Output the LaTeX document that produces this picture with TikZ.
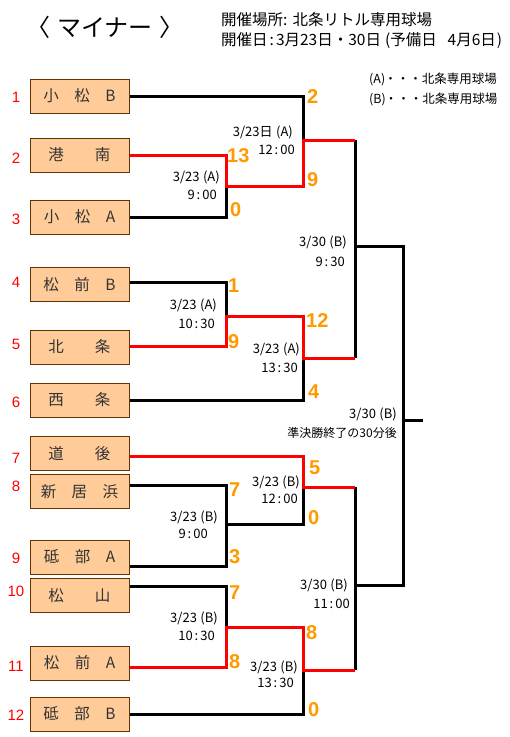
\documentclass[tikz,border=0pt]{standalone}
\usepackage{fontspec}
\setmainfont{Noto Sans CJK JP}
\newfontfamily\arialfont{Liberation Sans}
\definecolor{boxfill}{HTML}{FFCC99}
\definecolor{boxline}{HTML}{663300}
\definecolor{teamtext}{HTML}{333333}
\definecolor{scorecol}{HTML}{FF9900}
\newcommand{\gamedate}[2]{#1\hspace{3.5pt}(#2)}
\newcommand{\gametime}[2]{#1\hspace{2pt}:\hspace{2pt}#2}
\begin{document}
\begin{tikzpicture}[x=1pt,y=-1pt,
	team/.style={draw=boxline,fill=boxfill,line width=1pt,minimum width=99pt,minimum height=34pt,inner sep=0pt,text=teamtext,font=\fontsize{15.5}{15.5}\selectfont},
	seed/.style={text=red,inner sep=0pt,font=\arialfont\fontsize{15}{15}\selectfont},
	score/.style={anchor=west,inner sep=0pt,text=scorecol,font=\arialfont\bfseries\fontsize{20}{20}\selectfont},
	info/.style={anchor=east,inner sep=0pt,font=\fontsize{13}{13}\selectfont},
	lose/.style={line width=3pt},
	win/.style={line width=3pt,red}]
	\useasboundingbox (0,0) rectangle (510,737);
	% header
	\node (title) at (105,27) {\fontsize{24}{24}\selectfont 〈\hspace{7pt}マイナー\hspace{7pt}〉};
	\node[anchor=west,inner sep=0pt,font=\fontsize{15.5}{15.5}\selectfont] (place) at (221,20) {開催場所:\hspace{5pt}北条リトル専用球場};
	\node[anchor=west,inner sep=0pt,font=\fontsize{15.5}{15.5}\selectfont] (date) at (221,41) {開催日\hspace{2pt}:\hspace{2pt}3月23日\hspace{0pt}・\hspace{0pt}30日\hspace{4pt}(予備日\hspace{11pt}4月6日\hspace{1pt})};
	\node[anchor=west,inner sep=0pt,font=\fontsize{12.5}{12.5}\selectfont] (legA) at (369,79) {(A)\hspace{-1pt}・・・北条専用球場};
	\node[anchor=west,inner sep=0pt,font=\fontsize{12.5}{12.5}\selectfont] (legB) at (369,99) {(B)\hspace{-1pt}・・・北条専用球場};
	% teams
	\node[team] (t1) at (79.5,96) {小　松　B};
	\node[team] (t2) at (79.5,155) {港　　南};
	\node[team] (t3) at (79.5,217) {小　松　A};
	\node[team] (t4) at (79.5,284.5) {松　前　B};
	\node[team] (t5) at (79.5,347) {北　　条};
	\node[team] (t6) at (79.5,400) {西　　条};
	\node[team] (t7) at (79.5,453.5) {道　　後};
	\node[team] (t8) at (79.5,491.5) {新　居　浜};
	\node[team] (t9) at (79.5,557) {砥　部　A};
	\node[team] (t10) at (79.5,595.5) {松　　山};
	\node[team] (t11) at (79.5,663) {松　前　A};
	\node[team] (t12) at (79.5,714) {砥　部　B};
	% seeds
	\node[seed] (n1) at (16,97) {1};
	\node[seed] (n2) at (16,158) {2};
	\node[seed] (n3) at (16,219) {3};
	\node[seed] (n4) at (16,282) {4};
	\node[seed] (n5) at (16,344) {5};
	\node[seed] (n6) at (16,402) {6};
	\node[seed] (n7) at (16,458) {7};
	\node[seed] (n8) at (16,486) {8};
	\node[seed] (n9) at (16,558) {9};
	\node[seed] (n10) at (16,591) {10};
	\node[seed] (n11) at (16,666) {11};
	\node[seed] (n12) at (16,715) {12};
	% junctions
	\coordinate (m1) at (226,186);
	\coordinate (r1) at (303,140);
	\coordinate (m2) at (226,316);
	\coordinate (r2) at (303,358);
	\coordinate (s1) at (355,246);
	\coordinate (m3) at (226,524);
	\coordinate (r3) at (303,487);
	\coordinate (m4) at (226,627);
	\coordinate (r4) at (303,670);
	\coordinate (s2) at (355,585);
	\coordinate (fin) at (403,420);
	\coordinate (champ) at (423,420);
	% black lines
	\draw[lose] (t3.east) -| (m1);
	\draw[lose] (t1.east) -| (r1);
	\draw[lose] ([yshift=2.5pt]t4.east) -| (m2);
	\draw[lose] (t6.east) -| (r2);
	\draw[lose] (r1 -| s1) -- (r2 -| s1);
	\draw[lose] (s1) -| (fin);
	\draw[lose] ([yshift=6.5pt]t8.east) -| (m3);
	\draw[lose] ([yshift=-9pt]t9.east) -| (m3);
	\draw[lose] (m3) -| (r3);
	\draw[lose] ([yshift=9.5pt]t10.east) -| (m4);
	\draw[lose] (t12.east) -| (r4);
	\draw[lose] (r3 -| s2) -- (r4 -| s2);
	\draw[lose] (s2) -| (fin);
	\draw[lose] (fin) -- (champ);
	% red lines
	\draw[win] (t2.east) -| (m1) -| (r1) -- (r1 -| s1);
	\draw[win] ([yshift=1pt]t5.east) -| (m2) -| (r2) -- (r2 -| s1);
	\draw[win] ([yshift=-2.5pt]t7.east) -| (r3) -- (r3 -| s2);
	\draw[win] ([yshift=-4pt]t11.east) -| (m4) -| (r4) -- (r4 -| s2);
	% scores
	\node[score] at (307,97) {2};
	\node[score] at (227,156) {13};
	\node[score] at (307,180) {9};
	\node[score] at (230,210) {0};
	\node[score] at (228,286) {1};
	\node[score] at (228,342) {9};
	\node[score] at (306,321) {12};
	\node[score] at (308,392) {4};
	\node[score] at (309,468) {5};
	\node[score] at (229,490) {7};
	\node[score] at (308,518) {0};
	\node[score] at (229,557) {3};
	\node[score] at (229,593) {7};
	\node[score] at (229,662) {8};
	\node[score] at (306,633) {8};
	\node[score] at (308,710) {0};
	% match info
	\node[info] at (220,177) {\gamedate{3/23}{A}};
	\node[info] at (217,195) {\gametime{9}{00}};
	\node[info] at (293,132) {\gamedate{3/23日}{A}};
	\node[info] at (295,150) {\gametime{12}{00}};
	\node[info] at (217,305) {\gamedate{3/23}{A}};
	\node[info] at (215,324) {\gametime{10}{30}};
	\node[info] at (300,349) {\gamedate{3/23}{A}};
	\node[info] at (298,368) {\gametime{13}{30}};
	\node[info] at (347,242) {\gamedate{3/30}{B}};
	\node[info] at (345,262) {\gametime{9}{30}};
	\node[info] at (397,414) {\gamedate{3/30}{B}};
	\node[info,font=\fontsize{12}{12}\selectfont] at (397,433) {準決勝終了の30分後};
	\node[info] at (300,482) {\gamedate{3/23}{B}};
	\node[info] at (298,499) {\gametime{12}{00}};
	\node[info] at (218,517) {\gamedate{3/23}{B}};
	\node[info] at (208,534) {\gametime{9}{00}};
	\node[info] at (218,618) {\gamedate{3/23}{B}};
	\node[info] at (215,636) {\gametime{10}{30}};
	\node[info] at (298,667) {\gamedate{3/23}{B}};
	\node[info] at (294,683) {\gametime{13}{30}};
	\node[info] at (348,585) {\gamedate{3/30}{B}};
	\node[info] at (350,604) {\gametime{11}{00}};
\end{tikzpicture}
\end{document}
